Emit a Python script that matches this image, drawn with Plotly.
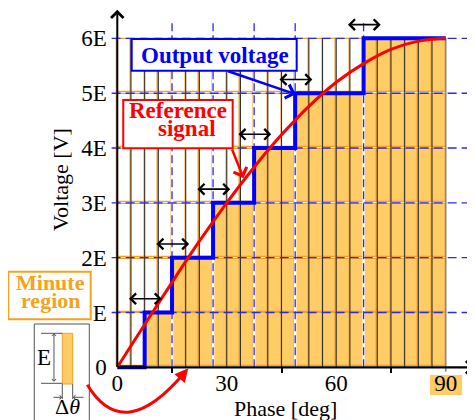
import plotly.graph_objects as go

# ---------------- data ----------------
n_cols = 24                      # number of minute regions
d_theta = 3.75                   # width of one minute region [deg]
y_tick_vals = [0, 1, 2, 3, 4, 5, 6]
y_tick_text = ['0', 'E', '2E', '3E', '4E', '5E', '6E']
x_tick_vals = [0, 30, 60, 90]
x_tick_text = ['0', '30', '60', '90']
x_minor_ticks = [15, 45, 75]
step_phase = [7.5, 15.0, 26.25, 37.5, 48.75, 67.5]          # output steps
output_phase = [0, 7.5, 15.0, 26.25, 37.5, 48.75, 67.5, 90]
output_level = [0, 1, 2, 3, 4, 5, 6, 6]
ref_phase = [0, 7.5, 15, 22.5, 30, 37.5, 45, 52.5, 60, 67.5, 75, 82.5, 90]
ref_volt = [0, 0.78, 1.55, 2.30, 3.00, 3.65, 4.24, 4.76, 5.20, 5.54, 5.80, 5.95, 6.00]
dashed_phase = [15.0, 26.25, 37.5, 48.75, 67.5]
arrow_half = 4.7
arrow_lift = 0.25

# ---------------- styles ----------------
FONT = 'Liberation Serif'
ORANGE_FILL = '#FFCC66'
ORANGE_LINE = '#F2A12A'
ORANGE_TXT = '#F7A21B'
BLUE = '#0000FF'
DBLUE = '#2A2AEE'
RED = '#FF0000'

fig = go.Figure()

# minute-region cells
cx, cb, ch, cc = [], [], [], []
gap = 0.018
for i in range(n_cols):
    left = i * d_theta
    lvl = sum(1 for s in step_phase if s <= left + 1e-9)
    for r in range(6):
        cx.append(left + d_theta / 2)
        cb.append(r + gap)
        ch.append(1 - 2 * gap)
        cc.append(ORANGE_FILL if r < lvl else 'white')
fig.add_trace(go.Bar(x=cx, y=ch, base=cb, width=d_theta,
                     marker=dict(color=cc, line=dict(color=ORANGE_LINE, width=1.3)),
                     hoverinfo='skip'))

# dark column boundary lines
lx, ly = [], []
for i in range(1, n_cols):
    b = i * d_theta
    if any(abs(b - d) < 1e-6 for d in dashed_phase):
        continue
    lx += [b, b, None]
    ly += [0, 6, None]
fig.add_trace(go.Scatter(x=lx, y=ly, mode='lines', line=dict(color='#333333', width=1.1),
                         hoverinfo='skip'))
fig.add_trace(go.Scatter(x=[90, 90], y=[-0.08, 6], mode='lines',
                         line=dict(color='#888888', width=1.6), hoverinfo='skip'))

# white gaps + blue dashed verticals
wx, wy, vx, vy = [], [], [], []
for d in dashed_phase:
    wx += [d, d, None]; wy += [0, 6, None]
    vx += [d, d, None]; vy += [0, 6.28, None]
fig.add_trace(go.Scatter(x=wx, y=wy, mode='lines', line=dict(color='white', width=2.5),
                         hoverinfo='skip'))
fig.add_trace(go.Scatter(x=vx, y=vy, mode='lines',
                         line=dict(color=DBLUE, width=1.3, dash='8px,4px'), hoverinfo='skip'))

# horizontal dashed level lines
hx, hy = [], []
for v in y_tick_vals[1:]:
    hx += [-1.55, 96.6, None]; hy += [v, v, None]
fig.add_trace(go.Scatter(x=hx, y=hy, mode='lines',
                         line=dict(color=DBLUE, width=1.4, dash='9px,5px'), hoverinfo='skip'))

# output voltage staircase
fig.add_trace(go.Scatter(x=output_phase, y=output_level, mode='lines', line_shape='hv',
                         line=dict(color=BLUE, width=4), hoverinfo='skip'))
# reference signal
fig.add_trace(go.Scatter(x=ref_phase, y=ref_volt, mode='lines', line_shape='spline',
                         line=dict(color=RED, width=3), hoverinfo='skip'))

ann = []
# double arrows at each step
for k, s in enumerate(step_phase):
    yv = output_level[k + 1] + arrow_lift
    ann.append(dict(x=s + arrow_half, y=yv, ax=s - arrow_half, ay=yv, xref='x', yref='y',
                    axref='x', ayref='y', text='', showarrow=True, arrowside='end+start',
                    arrowhead=4, startarrowhead=4, arrowsize=1.3, startarrowsize=1.3,
                    arrowwidth=1.6, arrowcolor='black'))
# axes arrows
ann.append(dict(x=0, y=6.52, ax=0, ay=-0.02, xref='x', yref='y', axref='x', ayref='y',
                text='', showarrow=True, arrowhead=4, arrowsize=1.2, arrowwidth=2,
                arrowcolor='black'))
ann.append(dict(x=97.8, y=0, ax=-0.3, ay=0, xref='x', yref='y', axref='x', ayref='y',
                text='', showarrow=True, arrowhead=4, arrowsize=1.1, arrowwidth=2.2,
                arrowcolor='black'))
# callout arrows
ann.append(dict(x=48.9, y=4.98, ax=29.98, ay=5.41, xref='x', yref='y', axref='x', ayref='y',
                text='', showarrow=True, arrowhead=4, arrowsize=1.1, arrowwidth=2.5,
                arrowcolor=BLUE))
ann.append(dict(x=34.6, y=3.45, ax=31.3, ay=4.0, xref='x', yref='y', axref='x', ayref='y',
                text='', showarrow=True, arrowhead=4, arrowsize=1.1, arrowwidth=2.5,
                arrowcolor=RED))
ann.append(dict(x=19.45, y=-0.018, ax=17.35, ay=-0.186, xref='x', yref='y', axref='x',
                ayref='y', text='', showarrow=True, arrowhead=2, arrowsize=0.9,
                arrowwidth=3, arrowcolor=RED))
# inset dimension arrows
ann.append(dict(x=-17.35, y=0.62, ax=-17.35, ay=-0.292, xref='x', yref='y', axref='x',
                ayref='y', text='', showarrow=True, arrowside='end+start', arrowhead=4,
                startarrowhead=4, arrowsize=0.8, startarrowsize=0.8, arrowwidth=1,
                arrowcolor='#555555'))
ann.append(dict(x=-15.07, y=-0.547, ax=-17.9, ay=-0.547, xref='x', yref='y', axref='x',
                ayref='y', text='', showarrow=True, arrowhead=4, arrowsize=0.8,
                arrowwidth=1, arrowcolor='#555555'))
ann.append(dict(x=-12.22, y=-0.547, ax=-8.85, ay=-0.547, xref='x', yref='y', axref='x',
                ayref='y', text='', showarrow=True, arrowhead=4, arrowsize=0.8,
                arrowwidth=1, arrowcolor='#555555'))


def txt(x, y, t, size, color, angle=0):
    return dict(x=x, y=y, xref='x', yref='y', text=t, showarrow=False, textangle=angle,
                font=dict(family=FONT, size=size, color=color),
                xanchor='center', yanchor='middle')


ann += [
    txt(26.77, 5.69, '<b>Output voltage</b>', 23, BLUE),
    txt(16.72, 4.68, '<b>Reference</b>', 23, RED),
    txt(19.2, 4.36, '<b>signal</b>', 23, RED),
    txt(-18.44, 1.556, '<b>Minute</b>', 22, ORANGE_TXT),
    txt(-18.3, 1.21, '<b>region</b>', 22, ORANGE_TXT),
    txt(-19.95, 0.17, 'E', 23, 'black'),
    txt(-13.65, -0.706, 'Δ<i>θ</i>', 22, 'black'),
    txt(-15.43, 3.435, 'Voltage [V]', 22, 'black', -90),
    txt(46.1, -0.75, 'Phase [deg]', 22, 'black'),
]

shapes = [
    dict(type='rect', xref='x', yref='y', x0=85.7, x1=94.5, y0=-0.505, y1=-0.14,
         fillcolor=ORANGE_FILL, line=dict(width=0), layer='below'),
    dict(type='rect', xref='x', yref='y', x0=3.95, x1=49.16, y0=5.41, y1=5.99,
         fillcolor='white', line=dict(color=BLUE, width=2), layer='above'),
    dict(type='rect', xref='x', yref='y', x0=1.64, x1=31.62, y0=3.995, y1=4.876,
         fillcolor='white', line=dict(color=RED, width=2), layer='above'),
    dict(type='rect', xref='x', yref='y', x0=-29.87, x1=-7.29, y0=0.876, y1=1.744,
         fillcolor='white', line=dict(color=ORANGE_TXT, width=2), layer='above'),
    dict(type='rect', xref='x', yref='y', x0=-22.75, x1=-7.67, y0=-1.3, y1=0.79,
         fillcolor='white', line=dict(color='#555555', width=1), layer='above'),
    dict(type='rect', xref='x', yref='y', x0=-15.07, x1=-12.22, y0=-0.305, y1=0.62,
         fillcolor=ORANGE_FILL, line=dict(color=ORANGE_LINE, width=1), layer='above'),
    dict(type='line', xref='x', yref='y', x0=-20.9, x1=-15.07, y0=0.62, y1=0.62,
         line=dict(color='#555555', width=1), layer='above'),
    dict(type='line', xref='x', yref='y', x0=-20.9, x1=-15.07, y0=-0.292, y1=-0.292,
         line=dict(color='#555555', width=1), layer='above'),
    dict(type='line', xref='x', yref='y', x0=-15.07, x1=-15.07, y0=-0.305, y1=-0.58,
         line=dict(color='#555555', width=1), layer='above'),
    dict(type='line', xref='x', yref='y', x0=-12.22, x1=-12.22, y0=-0.305, y1=-0.58,
         line=dict(color='#555555', width=1), layer='above'),
    dict(type='path', xref='x', yref='y', path='M -8.22,-0.32 Q 1.80,-1.426 18.55,-0.086',
         line=dict(color=RED, width=3), layer='above'),
]

# The page body adds an 8px offset; the axis ranges compensate for it so that the
# plot lands at the same screen position as the reference.
fig.update_layout(
    width=475, height=420, margin=dict(l=0, r=0, t=0, b=0, pad=0, autoexpand=False),
    paper_bgcolor='white', plot_bgcolor='white', showlegend=False,
    barmode='overlay', bargap=0,
    annotations=ann, shapes=shapes,
    xaxis=dict(range=[-29.95, 100.22], domain=[0, 1], anchor='free', position=0.14452,
               automargin=False,
               showgrid=False, zeroline=False, showline=False,
               tickvals=x_tick_vals, ticktext=x_tick_text, ticks='',
               tickfont=dict(family=FONT, size=23, color='black'),
               minor=dict(tickvals=x_minor_ticks, ticks='outside', ticklen=5,
                          tickcolor='black', tickwidth=1.5)),
    yaxis=dict(range=[-1.107, 6.554], domain=[0, 1], anchor='free', position=0.23011,
               automargin=False,
               showgrid=False, zeroline=False, showline=False,
               tickvals=y_tick_vals, ticktext=y_tick_text, ticks='outside', ticklen=6,
               tickcolor='rgba(0,0,0,0)',
               tickfont=dict(family=FONT, size=23, color='black')),
)

fig.write_html('out.html')
